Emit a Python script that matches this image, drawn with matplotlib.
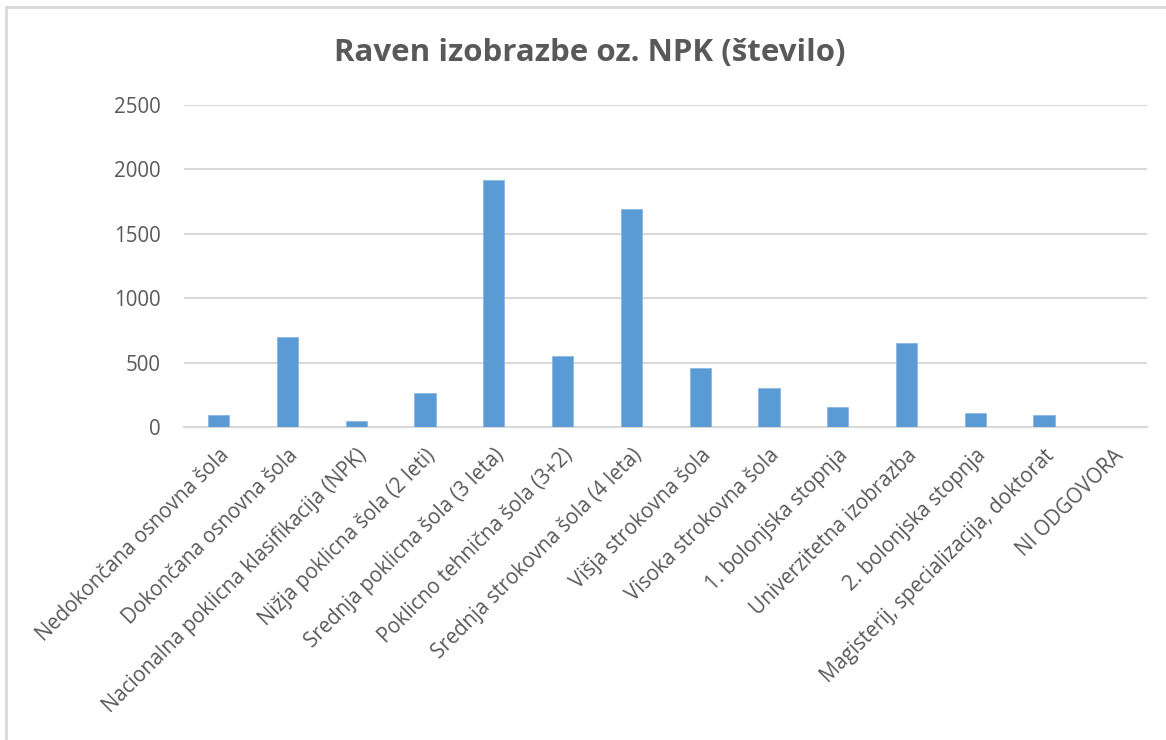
import matplotlib
matplotlib.use("Agg")
import matplotlib.pyplot as plt
from matplotlib.patches import Rectangle

# Raven izobrazbe
categories = [
    "Nedokončana osnovna šola",
    "Dokončana osnovna šola",
    "Nacionalna poklicna klasifikacija (NPK)",
    "Nižja poklicna šola (2 leti)",
    "Srednja poklicna šola (3 leta)",
    "Poklicno tehnična šola (3+2)",
    "Srednja strokovna šola (4 leta)",
    "Višja strokovna šola",
    "Visoka strokovna šola",
    "1. bolonjska stopnja",
    "Univerzitetna izobrazba",
    "2. bolonjska stopnja",
    "Magisterij, specializacija, doktorat",
    "NI ODGOVORA",
]
counts = [95, 700, 50, 265, 1915, 550, 1695, 455, 305, 158, 650, 107, 90, 0]
y_ticks = [0, 500, 1000, 1500, 2000, 2500]

text_col = "#595959"
grid_col = "#d9d9d9"
bar_col = "#5b9bd5"

plt.rcParams["font.family"] = ["Open Sans", "DejaVu Sans"]

fig = plt.figure(figsize=(11.66, 7.40), dpi=100)
ax = fig.add_axes([0.158, 0.423, 0.826, 0.435])

x = range(len(categories))
ax.bar(x, counts, width=0.31, color=bar_col, edgecolor="#8cb8e2", linewidth=0.6, zorder=3)

ax.set_xlim(-0.5, len(categories) - 0.5)
ax.set_ylim(0, 2500)
ax.set_yticks(y_ticks)
ax.set_yticklabels([str(v) for v in y_ticks], fontsize=14.8, color=text_col)
ax.set_xticks(list(x))
ax.set_xticklabels(categories, rotation=45, ha="right", rotation_mode="anchor",
                   fontsize=14.8, color=text_col)

ax.grid(axis="y", color=grid_col, linewidth=1.5, zorder=0)
for s in ["top", "right", "left"]:
    ax.spines[s].set_visible(False)
ax.spines["bottom"].set_color(grid_col)
ax.spines["bottom"].set_linewidth(1.5)
ax.tick_params(axis="both", length=0)
ax.tick_params(axis="y", pad=17)
ax.tick_params(axis="x", pad=13)

fig.text(0.506, 0.928, "Raven izobrazbe oz. NPK (število)", ha="center", va="center",
         fontsize=22.5, fontweight="bold", color=text_col)

# outer chart frame (only top and left edges are visible in the crop)
fig.patches.append(Rectangle((6 / 1166, -0.1), 1.2, 1 - 7 / 740 + 0.1,
                             transform=fig.transFigure, fill=False,
                             edgecolor=grid_col, linewidth=2))

fig.savefig("out.png", dpi=100)
